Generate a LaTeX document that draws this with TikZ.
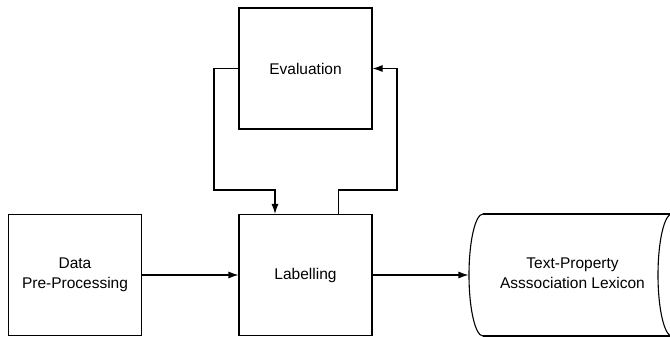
\documentclass[tikz,border=0pt]{standalone}
\usepackage{fontspec}
\setmainfont{Liberation Sans}
\usetikzlibrary{arrows.meta}
\begin{document}
\begin{tikzpicture}[x=1pt,y=-1pt,
  box/.style={draw,line width=1.1pt,minimum width=133pt,minimum height=121pt,inner sep=0pt,align=center,font=\fontsize{15.5}{20}\selectfont},
  arr/.style={line width=1.1pt,-{Latex[length=10pt,width=7pt]}},
  ln/.style={line width=1.1pt}]
\useasboundingbox (0,0) rectangle (670,337);
\node[box] (eval) at (305.5,68.5) {Evaluation};
\node[box] (data) at (75,275) {Data\\Pre-Processing};
\node[box] (lab) at (305.5,275) {Labelling};
\node[box,draw=none,minimum width=217pt] (lex) at (577.5,275) {};
\node[align=center,font=\fontsize{15.5}{20}\selectfont] (lext) at (572.5,273) {Text-Property\\Asssociation Lexicon};
% cylinder outline
\draw[ln] (483,214) -- (672,214) (483,336) -- (672,336);
\draw[ln] (483,214) arc[start angle=270,end angle=90,x radius=14,y radius=61];
\draw[ln] (672,275) ellipse[x radius=14,y radius=61];
\coordinate (l1) at (214,190);
\coordinate (r1) at (397,190);
\draw[arr] (data) -- (lab);
\draw[arr] (lab) -- (lex.west);
\draw[arr] (eval.west) -| (l1) -| ([xshift=-30.5pt]lab.north);
\draw[arr] ([xshift=33pt]lab.north) |- (r1) |- (eval.east);
\end{tikzpicture}
\end{document}
